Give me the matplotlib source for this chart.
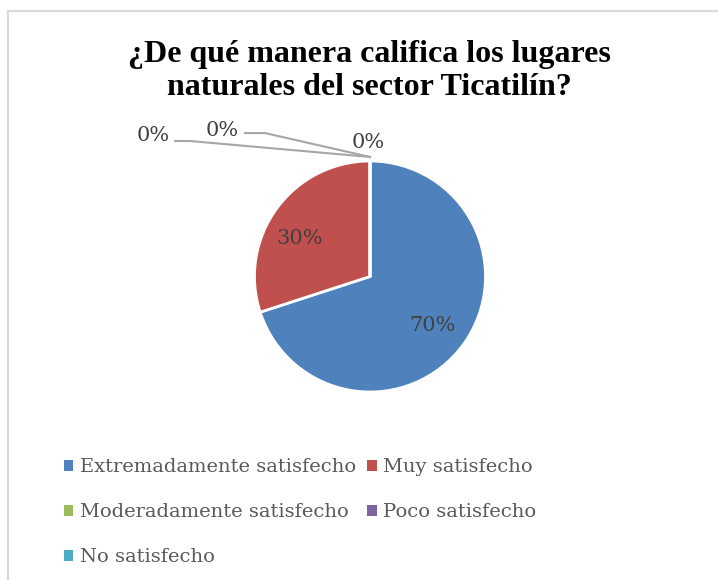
import matplotlib.pyplot as plt
from matplotlib.patches import Patch

categorias = ['Extremadamente satisfecho', 'Muy satisfecho', 'Moderadamente satisfecho',
              'Poco satisfecho', 'No satisfecho']
valores = [70, 30, 0, 0, 0]
colores = ['#4f81bd', '#c0504d', '#9bbb59', '#8064a2', '#4bacc6']
etiquetas = ['70%', '30%', '0%', '0%', '0%']

fig = plt.figure(figsize=(7.18, 5.80), dpi=100)

# marco gris (solo se ve arriba e izquierda)
fig.add_artist(plt.Line2D([8/718, 8/718], [0, 1 - 11/580], color='#d9d9d9', lw=1.5))
fig.add_artist(plt.Line2D([8/718, 1], [1 - 11/580, 1 - 11/580], color='#d9d9d9', lw=1.5))

fig.text(369/718, 1 - 71/580, '¿De qué manera califica los lugares\nnaturales del sector Ticatilín?',
         ha='center', va='center', fontsize=23, fontweight='bold',
         family='Liberation Serif', linespacing=1.18)

ax = fig.add_axes([254.5/718, 188/580, 231/718, 231/580])
wedges, _ = ax.pie(valores, colors=colores, startangle=90, counterclock=False,
                   wedgeprops=dict(edgecolor='white', linewidth=2))
ax.set_xlim(-1, 1)
ax.set_ylim(-1, 1)
ax.set_aspect('equal')

tf = dict(family='DejaVu Serif', fontsize=15, color='#404040', ha='center', va='center')
pos = [(0.537, -0.42), (-0.606, 0.333), (-0.017, 1.156), (-1.281, 1.268), (-1.879, 1.225)]
for (x, y), t in zip(pos, etiquetas):
    ax.text(x, y, t, clip_on=False, **tf)

# lineas guia de las etiquetas de 0%
ax.plot([-1.082, -0.909, 0.0], [1.242, 1.242, 1.035], color='#a6a6a6', lw=1.5, clip_on=False)
ax.plot([-1.688, -1.558, 0.0], [1.173, 1.173, 1.035], color='#a6a6a6', lw=1.5, clip_on=False)

orden = [0, 2, 4, 1, 3]
handles = [Patch(facecolor=colores[i], label=categorias[i]) for i in orden]
leg = fig.legend(handles=handles, ncol=2, loc='upper left', bbox_to_anchor=(46/718, 1 - 441/580),
                 frameon=False, prop={'family': 'DejaVu Serif', 'size': 14},
                 handlelength=0.5, handleheight=0.5, handletextpad=0.35,
                 columnspacing=0.55, labelspacing=1.38)
for t in leg.get_texts():
    t.set_color('#595959')

fig.savefig('out.png', dpi=100, facecolor='white')
